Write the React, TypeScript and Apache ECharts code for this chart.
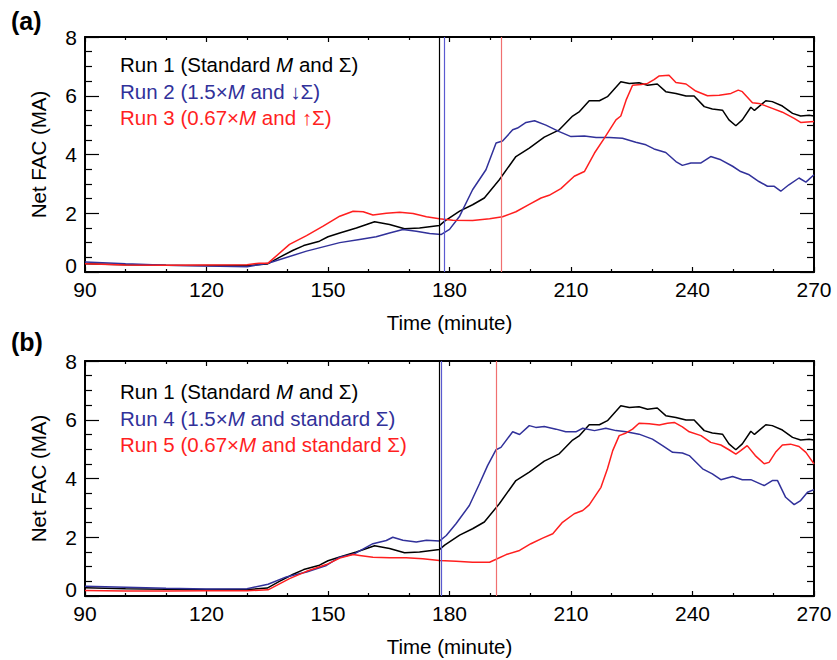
import React, { useEffect, useRef } from "react";
import * as echarts from "echarts";

// ---------- data ----------
const xTicks = [90, 120, 150, 180, 210, 240, 270];
const yTicks = [0, 2, 4, 6, 8];

const run1T = [90, 100, 110, 120, 130, 135, 138, 141.4, 144, 147.9, 150, 152.9, 157, 161.5, 165.2, 168.9, 172.6, 177.5, 178.8, 182.5, 185.7, 188.6, 192.3, 196.4, 199.7, 203.4, 207.1, 210.4, 212.1, 214.5, 217, 219, 222.3, 224.4, 226.8, 228.9, 231.3, 233.4, 235.9, 238.4, 240.4, 242.9, 244.9, 247.4, 249, 250.7, 252.3, 254.4, 255.3, 258.1, 259.7, 262.2, 264.7, 266.7, 268.8, 270];
const run1V = [0.28, 0.25, 0.23, 0.22, 0.22, 0.27, 0.5, 0.74, 0.9, 1.05, 1.2, 1.33, 1.5, 1.71, 1.62, 1.47, 1.5, 1.58, 1.73, 2.07, 2.29, 2.52, 3.14, 3.93, 4.22, 4.59, 4.84, 5.31, 5.46, 5.83, 5.83, 5.97, 6.48, 6.42, 6.44, 6.36, 6.4, 6.14, 6.08, 5.99, 5.99, 5.63, 5.55, 5.51, 5.18, 4.98, 5.18, 5.61, 5.5, 5.83, 5.8, 5.65, 5.4, 5.31, 5.34, 5.31];

const run2T = [90, 100, 110, 120, 130, 135.2, 144.7, 152.9, 157.8, 161.9, 165.2, 168.5, 171.8, 175.1, 178, 180, 182.5, 185.7, 189, 191.5, 193.1, 195.6, 196.8, 198.9, 201, 203.8, 207.1, 210, 213.3, 216.2, 219.5, 222.7, 226, 228.5, 230.5, 233.4, 235.9, 237.5, 239.6, 242, 244.5, 247, 249.9, 251.9, 254, 256.4, 258.5, 260.1, 261.8, 263.8, 266.3, 268, 270];
const run2V = [0.34, 0.28, 0.23, 0.2, 0.18, 0.3, 0.71, 1.0, 1.11, 1.2, 1.33, 1.45, 1.39, 1.31, 1.28, 1.45, 1.9, 2.8, 3.48, 4.39, 4.46, 4.84, 4.9, 5.09, 5.15, 5.0, 4.78, 4.61, 4.63, 4.58, 4.58, 4.55, 4.42, 4.33, 4.19, 4.07, 3.76, 3.63, 3.71, 3.71, 3.93, 3.82, 3.6, 3.42, 3.31, 3.08, 2.92, 2.92, 2.75, 2.97, 3.2, 3.06, 3.31];

const run3T = [90, 100, 110, 120, 130, 133, 135.2, 140.5, 144.7, 148.8, 152.9, 156.2, 158.7, 161.1, 164.4, 167.7, 171, 174.3, 177.5, 180.8, 185.7, 189.9, 193.1, 196.4, 199.7, 202.6, 204.6, 207.5, 210.8, 213.3, 215.8, 218.2, 221.1, 222.3, 223.6, 225.2, 227.3, 228.9, 230.5, 231.7, 234.2, 235.9, 238.4, 240.8, 243.7, 246.6, 249.5, 251.3, 252.3, 254.8, 256.4, 259.7, 262.2, 265.1, 266.7, 270];
const run3V = [0.28, 0.24, 0.23, 0.24, 0.25, 0.3, 0.3, 0.94, 1.24, 1.56, 1.9, 2.07, 2.05, 1.94, 2.0, 2.03, 1.99, 1.88, 1.81, 1.76, 1.75, 1.81, 1.88, 2.05, 2.3, 2.52, 2.61, 2.84, 3.26, 3.42, 4.05, 4.55, 5.18, 5.31, 5.85, 6.36, 6.38, 6.42, 6.55, 6.67, 6.7, 6.45, 6.4, 6.16, 6.0, 6.02, 6.08, 6.19, 6.14, 5.76, 5.74, 5.57, 5.44, 5.23, 5.09, 5.12];

const run4T = [90, 100, 110, 120, 130, 135.2, 139.7, 144.7, 149.6, 152.9, 156.6, 161.1, 164.4, 166, 168.5, 171.8, 174.3, 177.5, 179.2, 181.6, 184.9, 187.4, 189.4, 191.5, 192.7, 195.6, 197.3, 199.7, 201.3, 203.4, 206.3, 208.7, 211.2, 212.9, 215.8, 218.6, 221.1, 223.6, 226.8, 230.1, 232.6, 235.1, 237.5, 239.2, 242.5, 244.9, 247, 249.9, 252.3, 254.4, 257.7, 259.7, 261, 263, 265.1, 266.7, 268.4, 270];
const run4V = [0.33, 0.3, 0.26, 0.24, 0.25, 0.4, 0.65, 0.82, 1.04, 1.32, 1.44, 1.78, 1.89, 2.0, 1.9, 1.84, 1.9, 1.87, 2.06, 2.46, 3.08, 3.82, 4.44, 4.98, 5.06, 5.59, 5.5, 5.8, 5.74, 5.77, 5.68, 5.59, 5.59, 5.71, 5.63, 5.71, 5.63, 5.59, 5.51, 5.34, 5.12, 4.89, 4.87, 4.78, 4.33, 4.16, 3.96, 4.07, 3.96, 3.96, 3.76, 3.93, 3.93, 3.36, 3.11, 3.25, 3.53, 3.62];

const run5T = [90, 100, 110, 120, 130, 135.2, 140.5, 144.7, 149.6, 152.9, 156.2, 157.8, 161.1, 165.2, 169.3, 173.4, 177.5, 181.6, 185.7, 189.9, 191.5, 194, 197.3, 200.1, 203, 205.5, 207.9, 210.8, 212.9, 214.5, 217.4, 219, 220.3, 221.9, 223.6, 225.2, 226.8, 229.3, 231.8, 233.8, 235.5, 237.5, 239.2, 242.1, 244.5, 247, 249.1, 250.7, 251.9, 253.5, 255.5, 257.7, 258.9, 260.5, 262.2, 264.2, 266.3, 268, 270];
const run5V = [0.19, 0.17, 0.17, 0.18, 0.18, 0.21, 0.59, 0.84, 1.07, 1.29, 1.41, 1.38, 1.32, 1.3, 1.3, 1.27, 1.21, 1.18, 1.15, 1.15, 1.25, 1.41, 1.55, 1.78, 1.97, 2.12, 2.51, 2.8, 2.91, 3.1, 3.7, 4.33, 4.95, 5.46, 5.55, 5.68, 5.88, 5.86, 5.82, 5.88, 5.91, 5.76, 5.59, 5.46, 5.23, 5.14, 4.97, 4.83, 4.95, 5.12, 4.78, 4.5, 4.55, 4.89, 5.14, 5.17, 5.09, 4.89, 4.5];

// onset times (vertical lines): black, blue, red
const onsetA = [177.4, 178.6, 192.7];
const onsetB = [177.5, 178.0, 191.5];

const legendA = [
  ["Run 1 (Standard ", "M", " and Σ)"],
  ["Run 2 (1.5×", "M", " and ↓Σ)"],
  ["Run 3 (0.67×", "M", " and ↑Σ)"],
];
const legendB = [
  ["Run 1 (Standard ", "M", " and Σ)"],
  ["Run 4 (1.5×", "M", " and standard Σ)"],
  ["Run 5 (0.67×", "M", " and standard Σ)"],
];

// ---------- style ----------
const FONT = "'Liberation Sans', Arial, Helvetica, sans-serif";
const BLACK = "#000000";
const BLUE = "#31319a";
const RED = "#ff1f1f";
const VBLUE = "#5a5ad0";
const VRED = "#f07070";
const colors = [BLACK, BLUE, RED];

const zip = (t: number[], v: number[]) => t.map((x, i) => [x, v[i]]);

export default function App() {
  const ref = useRef<HTMLDivElement>(null);
  useEffect(() => {
    if (!ref.current) return;
    const chart = echarts.init(ref.current, undefined, { renderer: "svg" });

    const grids = [
      { left: 85, right: 23, top: 37, height: 235 },
      { left: 85, right: 23, top: 361, height: 235 },
    ];

    const xAxes: any[] = [];
    const yAxes: any[] = [];
    [0, 1].forEach((g) => {
      const common = {
        type: "value",
        gridIndex: g,
        min: 90,
        max: 270,
        interval: 30,
        splitLine: { show: false },
        axisLine: { show: true, onZero: false, lineStyle: { color: "#000", width: 2 } },
        axisTick: { show: true, inside: true, length: 5, lineStyle: { color: "#000", width: 1.2 } },
        minorTick: { show: true, splitNumber: 3, length: 3, lineStyle: { color: "#000", width: 1.2 } },
      };
      xAxes.push({
        ...common,
        position: "bottom",
        name: "Time (minute)",
        nameLocation: "middle",
        nameGap: 40,
        nameTextStyle: { fontFamily: FONT, fontSize: 20.5, color: "#000" },
        axisLabel: {
          show: true,
          margin: 7,
          fontFamily: FONT,
          fontSize: 21,
          color: "#000",
          customValues: xTicks,
        },
      });
      xAxes.push({ ...common, position: "top", axisLabel: { show: false } });

      const ycommon = {
        type: "value",
        gridIndex: g,
        min: 0,
        max: 8,
        interval: 2,
        splitLine: { show: false },
        axisLine: { show: true, onZero: false, lineStyle: { color: "#000", width: 2 } },
        axisTick: { show: true, inside: true, length: 14, lineStyle: { color: "#000", width: 1.2 } },
        minorTick: { show: true, splitNumber: 4, length: 7, lineStyle: { color: "#000", width: 1.2 } },
      };
      yAxes.push({
        ...ycommon,
        position: "left",
        name: "Net FAC (MA)",
        nameLocation: "middle",
        nameGap: 36,
        nameTextStyle: { fontFamily: FONT, fontSize: 20.5, color: "#000" },
        axisLabel: {
          show: true,
          margin: 8,
          fontFamily: FONT,
          fontSize: 21,
          color: "#000",
          customValues: yTicks,
          formatter: (v: number) => (v === 0 ? "{z|0}" : "{n|" + v + "}"),
          rich: {
            z: { fontFamily: FONT, fontSize: 21, color: "#000", padding: [0, 0, 13, 0] },
            n: { fontFamily: FONT, fontSize: 21, color: "#000" },
          },
        },
      });
      yAxes.push({ ...ycommon, position: "right", axisLabel: { show: false } });
    });

    const mk = (vals: number[]) => ({
      silent: true,
      symbol: ["none", "none"],
      label: { show: false },
      animation: false,
      data: vals.map((v, i) => ({
        xAxis: v,
        lineStyle: { color: [BLACK, VBLUE, VRED][i], width: 1.2, type: "solid" },
      })),
    });

    const line = (name: string, t: number[], v: number[], color: string, g: number, markLine?: any) => ({
      name,
      type: "line",
      xAxisIndex: g * 2,
      yAxisIndex: g * 2,
      data: zip(t, v),
      showSymbol: false,
      symbol: "none",
      lineStyle: { color, width: 1.5 },
      itemStyle: { color },
      z: 3,
      ...(markLine ? { markLine } : {}),
    });

    const series = [
      line("Run 1 (a)", run1T, run1V, BLACK, 0, mk(onsetA)),
      line("Run 2", run2T, run2V, BLUE, 0),
      line("Run 3", run3T, run3V, RED, 0),
      line("Run 1 (b)", run1T, run1V, BLACK, 1, mk(onsetB)),
      line("Run 4", run4T, run4V, BLUE, 1),
      line("Run 5", run5T, run5V, RED, 1),
    ];

    const legendText = (rows: string[][], top: number) =>
      rows.map((r, i) => ({
        type: "text",
        left: 120,
        top: top + i * 26.5 - 12,
        style: {
          text: `{a|${r[0]}}{i|${r[1]}}{a|${r[2]}}`,
          rich: {
            a: { fontFamily: FONT, fontSize: 20.5, fill: colors[i], color: colors[i] },
            i: { fontFamily: FONT, fontSize: 20.5, fontStyle: "italic", fill: colors[i], color: colors[i] },
          },
          fill: colors[i],
        },
      }));

    const graphic = [
      {
        type: "text",
        left: 11,
        top: 8,
        style: { text: "(a)", fontFamily: FONT, fontSize: 25, fontWeight: "bold", fill: "#000" },
      },
      {
        type: "text",
        left: 11,
        top: 329,
        style: { text: "(b)", fontFamily: FONT, fontSize: 25, fontWeight: "bold", fill: "#000" },
      },
      ...legendText(legendA, 66),
      ...legendText(legendB, 393),
    ];

    chart.setOption({
      animation: false,
      backgroundColor: "#ffffff",
      grid: grids,
      xAxis: xAxes,
      yAxis: yAxes,
      series,
      graphic,
    });
    return () => chart.dispose();
  }, []);
  return <div ref={ref} style={{ width: 837, height: 660, position: "absolute", left: 0, top: 0 }} />;
}
